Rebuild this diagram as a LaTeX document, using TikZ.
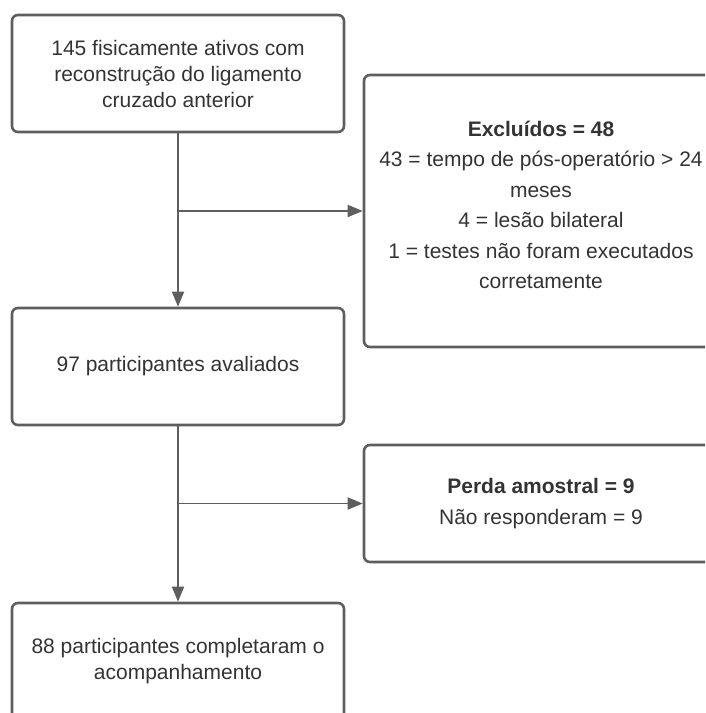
\documentclass[tikz,border=0pt]{standalone}
\usepackage{fontspec}
\setmainfont{Liberation Sans}
\usepackage{tikz}
\usetikzlibrary{arrows.meta,positioning}
\definecolor{linegray}{HTML}{5E5E5E}
\definecolor{textgray}{HTML}{333333}

\begin{document}
\begin{tikzpicture}[x=1pt, y=-1pt,
    box/.style={draw=linegray, line width=2.6pt, rounded corners=6pt,
        minimum width=332pt, minimum height=117pt, align=center,
        text=textgray, font=\fontsize{21}{26}\selectfont},
    sidebox/.style={box, minimum width=354pt},
    flow/.style={draw=linegray, line width=1.8pt, -{Triangle[length=15pt,width=12pt]}}]
    \useasboundingbox (0,0) rectangle (705,713);
    \clip (0,0) rectangle (705,713);
    \node[box] (start) at (178,73.5) {145 fisicamente ativos com\\reconstrução do ligamento\\cruzado anterior};
    \node[box] (eval) at (178,366.5) {97 participantes avaliados};
    \node[box] (done) at (178,661.5) {88 participantes completaram o\\acompanhamento};
    \node[sidebox, minimum height=272pt, font=\fontsize{21}{30.5}\selectfont] (excl) at (541,211)
        {\textbf{Excluídos = 48}\\43 = tempo de pós-operatório > 24\\meses\\4 = lesão bilateral\\1 = testes não foram executados\\corretamente\\[-18pt]};
    \node[sidebox, font=\fontsize{21}{30.5}\selectfont] (loss) at (541,503.5)
        {\textbf{Perda amostral = 9}\\Não responderam = 9};
    \draw[flow] (start) -- (eval);
    \draw[flow] (start.south |- excl.west) -- (excl);
    \draw[flow] (eval) -- (done);
    \draw[flow] (eval.south |- loss.west) -- (loss);
\end{tikzpicture}
\end{document}
